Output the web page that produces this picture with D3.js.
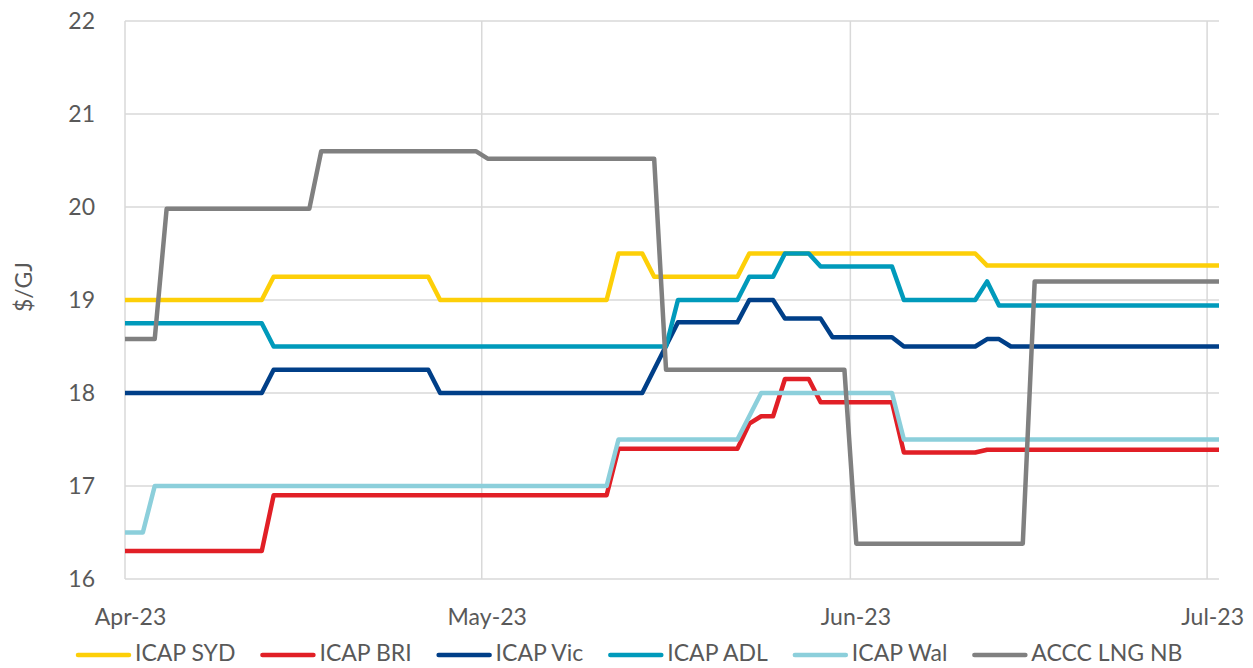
<!DOCTYPE html>
<html>
<head>
<meta charset="utf-8">
<script src="https://cdn.jsdelivr.net/npm/d3@7"></script>
<style>
  body { margin: 0; background: #fff; }
  svg text { font-family: Lato, "Open Sans", sans-serif; fill: #595959; }
</style>
</head>
<body>
<svg id="chart" width="1253" height="668"></svg>
<script>
// vertices: [days after 1 Apr 2023, $/GJ]
let icapSyd = [[0, 19], [11.5, 19], [12.5, 19.25], [25.5, 19.25], [26.5, 19], [40.5, 19], [41.5, 19.5], [43.5, 19.5],
    [44.5, 19.25], [51.5, 19.25], [52.5, 19.5], [71.5, 19.5], [72.5, 19.37], [92, 19.37]];
let icapBri = [[0, 16.3], [11.5, 16.3], [12.5, 16.9], [40.5, 16.9], [41.5, 17.4], [51.5, 17.4], [52.5, 17.67], [53.5, 17.75],
    [54.5, 17.75], [55.5, 18.15], [57.5, 18.15], [58.5, 17.9], [64.5, 17.9], [65.5, 17.36], [71.5, 17.36], [72.5, 17.39], [92, 17.39]];
let icapVic = [[0, 18], [11.5, 18], [12.5, 18.25], [25.5, 18.25], [26.5, 18], [43.5, 18], [46.5, 18.76], [51.5, 18.76],
    [52.5, 19], [54.5, 19], [55.5, 18.8], [58.5, 18.8], [59.5, 18.6], [64.5, 18.6], [65.5, 18.5], [71.5, 18.5],
    [72.5, 18.58], [73.5, 18.58], [74.5, 18.5], [92, 18.5]];
let icapAdl = [[0, 18.75], [11.5, 18.75], [12.5, 18.5], [45.5, 18.5], [46.5, 19], [51.5, 19], [52.5, 19.25], [54.5, 19.25],
    [55.5, 19.5], [57.5, 19.5], [58.5, 19.36], [64.5, 19.36], [65.5, 19], [71.5, 19], [72.5, 19.2], [73.5, 18.94], [92, 18.94]];
let icapWal = [[0, 16.5], [1.5, 16.5], [2.5, 17], [40.5, 17], [41.5, 17.5], [51.5, 17.5], [53.5, 18], [64.5, 18],
    [65.5, 17.5], [92, 17.5]];
let acccLng = [[0, 18.58], [2.5, 18.58], [3.5, 19.98], [15.5, 19.98], [16.5, 20.6], [29.5, 20.6], [30.5, 20.52],
    [44.5, 20.52], [45.5, 18.25], [60.5, 18.25], [61.5, 16.38], [75.5, 16.38], [76.5, 19.2], [92, 19.2]];

let seriesNames = ["ICAP SYD", "ICAP BRI", "ICAP Vic", "ICAP ADL", "ICAP Wal", "ACCC LNG NB"];
let seriesColors = ["#fdcf08", "#e11f26", "#003f88", "#009abb", "#8ccfdb", "#808080"];
let seriesData = [icapSyd, icapBri, icapVic, icapAdl, icapWal, acccLng];
let yTicks = [16, 17, 18, 19, 20, 21, 22];

let start = new Date(2023, 3, 1);
let dayToDate = d => d3.timeHour.offset(start, d * 24);

let svg = d3.select("#chart");
let plotLeft = 125, plotRight = 1219, plotTop = 21, plotBottom = 579;

let x = d3.scaleTime()
    .domain([start, dayToDate(92)])
    .range([plotLeft, plotRight]);
let y = d3.scaleLinear()
    .domain([16, 22])
    .range([plotBottom, plotTop]);

// gridlines
svg.append("g")
    .selectAll("line")
    .data(yTicks)
    .join("line")
    .attr("x1", plotLeft)
    .attr("x2", plotRight)
    .attr("y1", d => y(d))
    .attr("y2", d => y(d))
    .style("stroke", "#d9d9d9")
    .style("stroke-width", 1.5);
svg.append("g")
    .selectAll("line")
    .data(x.ticks(d3.timeMonth.every(1)))
    .join("line")
    .attr("x1", d => x(d))
    .attr("x2", d => x(d))
    .attr("y1", plotTop)
    .attr("y2", plotBottom)
    .style("stroke", "#d9d9d9")
    .style("stroke-width", 1.5);

// y axis labels
let yAxis = svg.append("g")
    .attr("transform", `translate(${plotLeft},0)`)
    .call(d3.axisLeft(y).tickValues(yTicks).tickSize(0).tickPadding(30).tickFormat(d3.format("d")));
yAxis.select(".domain").remove();
yAxis.selectAll("text").style("font-size", "23px");

// x axis labels
let xAxis = svg.append("g")
    .attr("transform", `translate(5,${plotBottom})`)
    .call(d3.axisBottom(x).ticks(d3.timeMonth.every(1)).tickSize(0).tickPadding(30).tickFormat(d3.timeFormat("%b-%y")));
xAxis.select(".domain").remove();
xAxis.selectAll("text").style("font-size", "23px");

svg.append("text")
    .attr("transform", "translate(24,287) rotate(-90)")
    .attr("text-anchor", "middle")
    .attr("dy", "0.35em")
    .style("font-size", "23px")
    .text("$/GJ");

// series lines
let line = d3.line()
    .x(d => x(dayToDate(d[0])))
    .y(d => y(d[1]));
seriesData.forEach((data, i) => {
    svg.append("path")
        .datum(data)
        .attr("d", line)
        .style("fill", "none")
        .style("stroke", seriesColors[i])
        .style("stroke-width", 4.5)
        .style("stroke-linejoin", "round");
});

// legend
let legend = svg.append("g").attr("transform", "translate(76,0)");
let legendX = 0;
seriesNames.forEach((name, i) => {
    let item = legend.append("g").attr("transform", `translate(${legendX},0)`);
    item.append("line")
        .attr("x1", 2)
        .attr("x2", 53)
        .attr("y1", 655)
        .attr("y2", 655)
        .style("stroke", seriesColors[i])
        .style("stroke-width", 4.5)
        .style("stroke-linecap", "round");
    let label = item.append("text")
        .attr("x", 59)
        .attr("y", 661)
        .style("font-size", "23px")
        .text(name);
    legendX += 59 + label.node().getComputedTextLength() + 25;
});
</script>
</body>
</html>
